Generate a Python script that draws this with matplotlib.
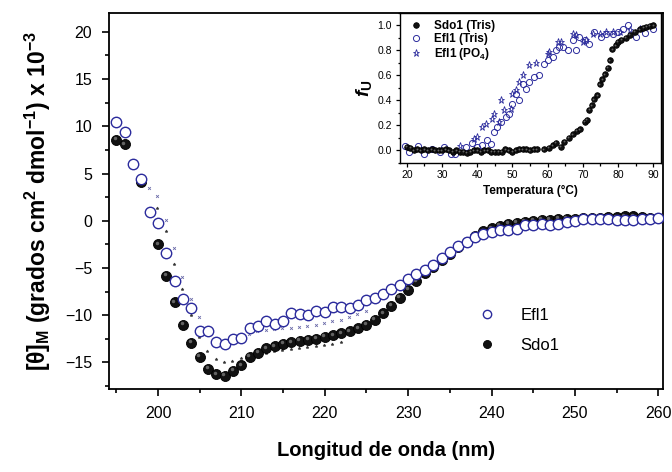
import matplotlib
matplotlib.use("Agg")
import matplotlib.pyplot as plt
import matplotlib.transforms as mtransforms
import numpy as np
from matplotlib.ticker import MultipleLocator

plt.rcParams['font.family'] = ['Liberation Sans', 'DejaVu Sans']
plt.rcParams['mathtext.fontset'] = 'custom'
plt.rcParams['mathtext.rm'] = 'Liberation Sans:bold'
plt.rcParams['mathtext.bf'] = 'Liberation Sans:bold'
plt.rcParams['mathtext.it'] = 'Liberation Sans:bold:italic'

# --- main CD spectra ---
wavelength = list(range(195, 261))
efl1 = [10.5, 9.4, 6.0, 4.4, 0.9, -0.2, -3.4, -6.4, -8.3, -9.2,
        -11.7, -11.7, -12.8, -13.0, -12.5, -12.4, -11.4, -11.1, -10.6, -10.9,
        -10.6, -9.8, -9.85, -10.0, -9.6, -9.7, -9.1, -9.1, -9.2, -8.9,
        -8.4, -8.2, -7.7, -7.2, -6.85, -6.2, -5.6, -5.2, -4.7, -3.9,
        -3.3, -2.7, -2.2, -1.7, -1.35, -1.2, -0.95, -0.95, -0.85, -0.4,
        -0.4, -0.35, -0.4, -0.35, -0.15, -0.05, 0.2, 0.2, 0.2, 0.2,
        0.1, 0.05, 0.1, 0.2, 0.2, 0.3]
sdo1 = [8.6, 8.1, np.nan, 4.1, np.nan, -2.5, -5.8, -8.6, -11.0, -12.9,
        -14.4, -15.65, -16.25, -16.4, -15.9, -15.3, -14.4, -13.95, -13.5, -13.3,
        -13.0, -12.85, -12.7, -12.6, -12.5, -12.3, -12.1, -11.9, -11.7, -11.4,
        -11.0, -10.45, -9.8, -9.0, -8.15, -7.3, -6.4, -5.5, -4.9, -4.2,
        -3.5, -2.8, -2.2, -1.6, -1.1, -0.8, -0.5, -0.3, -0.2, -0.1,
        0.0, 0.1, 0.1, 0.2, 0.2, 0.2, 0.3, 0.3, 0.3, 0.4,
        0.4, 0.5, 0.5, 0.4, 0.3, 0.3]

# faint small traces next to the spectra
trace_a_x = [198.9, 199.9, 200.9, 201.9, 202.9, 203.9, 204.9, 205.9, 206.9, 207.9,
             208.9, 209.9, 210.9, 211.9, 212.9, 213.9, 214.9, 215.9, 216.9, 217.9,
             218.9, 219.9, 220.9, 221.9, 222.9, 223.9, 224.9]
trace_a_y = [3.5, 2.65, 0.1, -2.9, -5.9, -8.3, -10.2, -11.8, -12.7, -13.0,
             -12.9, -12.5, -12.0, -11.7, -11.6, -11.5, -11.4, -11.3, -11.2, -11.1,
             -11.0, -10.8, -10.6, -10.5, -10.2, -9.9, -9.6]
trace_b_x = [197.9, 199.9, 200.9, 201.9, 202.9, 203.9, 204.9, 205.9, 206.9, 207.9,
             208.9, 209.9, 210.9, 211.9, 212.9, 213.9, 214.9, 215.9, 216.9, 217.9,
             218.9, 219.9, 220.9, 221.9]
trace_b_y = [3.9, 1.35, -1.05, -4.6, -7.2, -10.0, -12.3, -13.8, -14.6, -14.9,
             -14.8, -14.5, -14.3, -14.1, -14.0, -13.8, -13.7, -13.6, -13.5, -13.4,
             -13.3, -13.2, -13.0, -12.8]

# --- inset: thermal unfolding ---
sdo1_t = list(range(20, 58)) + [59.0, 60.3, 61.5, 62.4, 63.8, 64.8, 66.0, 67.1, 68.3, 69.2,
                                70.5, 71.2, 71.9, 72.6, 73.1, 74.1, 74.8, 75.5, 76.2, 77.1,
                                77.6, 78.4, 79.3, 80.0, 81.0, 82.2, 83.3, 84.8, 86.2, 87.2,
                                88.1, 89.0, 90.0]
sdo1_fu = [0.03, 0.02, 0.0, 0.01, 0.0, 0.01, 0.0, 0.01, 0.0, 0.0,
           0.0, 0.01, 0.0, -0.01, 0.0, -0.01, -0.01, -0.02, -0.01, 0.0,
           0.0, -0.01, 0.0, 0.0, -0.01, -0.01, -0.01, -0.01, 0.01, 0.0,
           -0.01, 0.0, 0.01, 0.01, 0.01, 0.0, 0.01, 0.01,
           0.01, 0.02, 0.04, 0.06, 0.03, 0.067, 0.1, 0.13, 0.155, 0.17,
           0.23, 0.245, 0.325, 0.36, 0.41, 0.44, 0.53, 0.57, 0.61, 0.66,
           0.72, 0.81, 0.84, 0.87, 0.885, 0.90, 0.925, 0.95, 0.97, 0.98,
           0.99, 0.995, 1.0]
efl1_tris_t = [19.6, 20.5, 23.3, 24.8, 27.1, 29.5, 30.5, 32.4, 33.8, 36.7,
               38.6, 40.0, 41.4, 42.9, 43.8, 44.8, 45.7, 46.7, 48.1, 49.0,
               50.0, 50.9, 51.9, 52.9, 53.8, 54.8, 56.2, 57.6, 59.0, 60.0,
               61.4, 62.4, 63.3, 64.3, 65.7, 67.1, 68.1, 69.0, 70.5, 71.9,
               73.3, 75.2, 76.7, 78.6, 80.0, 81.4, 82.9, 85.2, 87.6, 90.0]
efl1_tris_fu = [0.035, -0.01, 0.035, -0.03, 0.01, -0.01, 0.03, -0.03, -0.03, 0.03,
                0.06, 0.03, 0.04, 0.08, 0.05, 0.15, 0.19, 0.23, 0.27, 0.29,
                0.37, 0.45, 0.40, 0.53, 0.49, 0.55, 0.59, 0.60, 0.69, 0.72,
                0.75, 0.80, 0.83, 0.83, 0.80, 0.88, 0.80, 0.91, 0.88, 0.85,
                0.95, 0.91, 0.93, 0.93, 0.95, 0.97, 1.0, 0.91, 0.94, 0.97]
efl1_po4_t = [35.2, 39.0, 40.0, 41.4, 42.4, 44.3, 44.8, 46.2, 46.7, 47.6,
              49.5, 50.0, 51.0, 51.9, 52.9, 54.8, 56.7, 60.0, 60.5, 62.9,
              63.8, 67.1, 68.1, 70.0, 71.0, 72.9, 74.8, 76.7, 78.6, 80.5,
              83.3, 86.2]
efl1_po4_fu = [0.035, 0.09, 0.11, 0.19, 0.21, 0.25, 0.29, 0.23, 0.40, 0.32,
               0.33, 0.45, 0.48, 0.55, 0.60, 0.68, 0.70, 0.77, 0.79, 0.87,
               0.87, 0.93, 0.92, 0.87, 0.88, 0.93, 0.93, 0.95, 0.95, 0.95,
               0.96, 0.97]

blue = '#2b2b9c'

fig = plt.figure(figsize=(6.72, 4.72), dpi=100)
ax = fig.add_axes([0.162, 0.176, 0.825, 0.7965])


def sphere(axis, x, y, size, hl_size, label=None, dx=-1.0, dy=1.0, z=3):
    # black ball with a small grey highlight to look shaded
    axis.plot(x, y, 'o', ms=size, mfc='#111111', mec='#000000', mew=0.6,
              ls='none', label=label, zorder=z)
    off = mtransforms.offset_copy(axis.transData, fig=fig, x=dx, y=dy, units='dots')
    axis.plot(x, y, 'o', ms=hl_size, mfc='#7a7a7a', mec='none', ls='none',
              transform=off, zorder=z, alpha=0.8)


ax.plot(trace_a_x, trace_a_y, 'x', ms=2, mew=0.6, color='#6a6aa8', ls='none', zorder=2)
ax.plot(trace_b_x, trace_b_y, '*', ms=2.2, mew=0.4, color='#333333', ls='none', zorder=2)
sphere(ax, wavelength, sdo1, 7.2, 2.5, label='Sdo1', dx=-1.5, dy=1.5, z=2.5)
ax.plot(wavelength, efl1, 'o', ms=7.5, mfc='white', mec=blue, mew=1.0, ls='none',
        label='Efl1', zorder=3)

ax.set_xlim(194.1, 260.6)
ax.set_ylim(-17.8, 22)
ax.xaxis.set_major_locator(MultipleLocator(10))
ax.xaxis.set_minor_locator(MultipleLocator(5))
ax.yaxis.set_major_locator(MultipleLocator(5))
ax.yaxis.set_minor_locator(MultipleLocator(2.5))
ax.set_yticks([20, 15, 10, 5, 0, -5, -10, -15])
ax.tick_params(which='major', direction='out', length=5, width=1.2, labelsize=11.5, pad=7)
ax.tick_params(which='minor', direction='out', length=3, width=1.2)
for s in ax.spines.values():
    s.set_linewidth(1.3)
ax.set_xlabel('Longitud de onda (nm)', fontsize=14.5, fontweight='bold', labelpad=15)
ax.set_ylabel('[θ]$_\\mathrm{M}$ (grados cm$^\\mathrm{2}$ dmol$^\\mathrm{-1}$) x 10$^\\mathrm{-3}$',
              fontsize=16.5, fontweight='bold', labelpad=9)

h, l = ax.get_legend_handles_labels()
ax.legend([h[1], h[0]], [l[1], l[0]], loc='lower right', bbox_to_anchor=(0.84, 0.055),
          frameon=False, fontsize=12, handletextpad=1.0, labelspacing=0.9,
          markerscale=0.8)

# --- inset ---
ins = fig.add_axes([0.595, 0.655, 0.389, 0.3175])
ins.plot(efl1_tris_t, efl1_tris_fu, 'o', ms=4.4, mfc='none', mec=blue, mew=0.7,
         ls='none', label='Efl1 (Tris)', zorder=2)
ins.plot(efl1_po4_t, efl1_po4_fu, '*', ms=5.2, mfc='none', mec=blue, mew=0.6,
         ls='none', label=r'Efl1 (PO$_\mathrm{4}$)', zorder=2)
sphere(ins, sdo1_t, sdo1_fu, 4.0, 1.3, label='Sdo1 (Tris)', dx=-0.6, dy=0.6)

ins.set_xlim(18.0, 92.3)
ins.set_ylim(-0.1, 1.1)
ins.xaxis.set_major_locator(MultipleLocator(10))
ins.xaxis.set_minor_locator(MultipleLocator(5))
ins.yaxis.set_major_locator(MultipleLocator(0.2))
ins.yaxis.set_minor_locator(MultipleLocator(0.1))
ins.tick_params(which='major', direction='out', length=3, width=0.9, labelsize=7.5, pad=2.5)
ins.tick_params(which='minor', direction='out', length=1.8, width=0.9)
ins.yaxis.set_major_formatter(matplotlib.ticker.FormatStrFormatter('%.1f'))
for s in ins.spines.values():
    s.set_linewidth(1.0)
ins.set_xlabel('Temperatura (°C)', fontsize=8.5, fontweight='bold', labelpad=3)
ins.set_ylabel(r'$f$$_\mathrm{U}$', fontsize=14, labelpad=3)

h, l = ins.get_legend_handles_labels()
order = [2, 0, 1]
ins.legend([h[i] for i in order], [l[i] for i in order], loc='upper left',
           frameon=False, prop={'size': 8.5, 'weight': 'bold'},
           handletextpad=0.7, labelspacing=0.1, borderaxespad=0.2,
           handlelength=1.6)

fig.savefig('out.png', dpi=100)
